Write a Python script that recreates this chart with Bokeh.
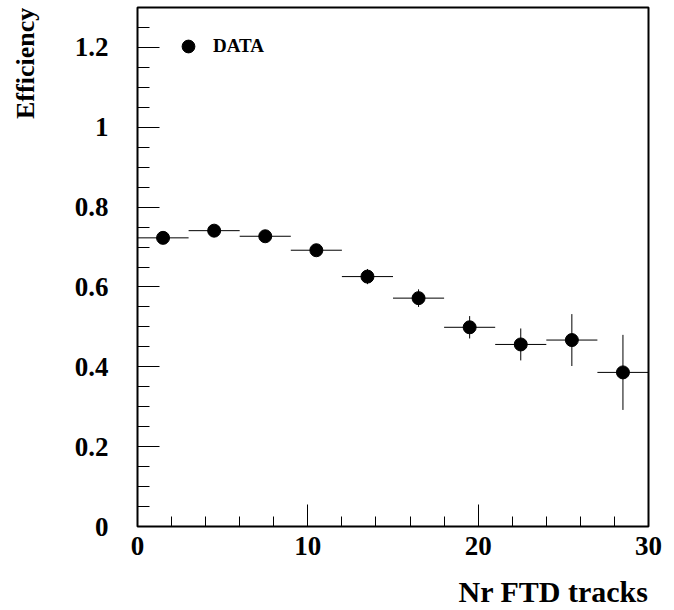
from bokeh.plotting import figure
from bokeh.models import FixedTicker, Legend, LegendItem, LinearAxis, Range1d
from bokeh.embed import file_html
from bokeh.resources import INLINE

# Efficiency per bin of FTD track multiplicity (bins of width 3)
bin_lo = [0, 3, 6, 9, 12, 15, 18, 21, 24, 27]
bin_hi = [3, 6, 9, 12, 15, 18, 21, 24, 27, 30]
bin_center = [1.5, 4.5, 7.5, 10.5, 13.5, 16.5, 19.5, 22.5, 25.5, 28.5]
efficiency = [0.723, 0.741, 0.727, 0.692, 0.626, 0.572, 0.499, 0.456, 0.467, 0.386]
eff_error = [0.010, 0.010, 0.010, 0.012, 0.019, 0.022, 0.028, 0.040, 0.065, 0.094]

y_major = [0, 0.2, 0.4, 0.6, 0.8, 1.0, 1.2]
y_minor = [i * 0.05 for i in range(27)]
x_major = [0, 10, 20, 30]
x_minor = list(range(0, 31, 2))

FONT = "Liberation Serif"
X_MAX, Y_MAX = 30, 1.3
FRAME_W, FRAME_H = 511, 520

p = figure(width=674, height=610, output_backend="svg", toolbar_location=None,
           x_range=Range1d(0, X_MAX), y_range=Range1d(0, Y_MAX),
           min_border_left=137, min_border_right=26,
           min_border_top=7, min_border_bottom=83)

p.xgrid.visible = False
p.ygrid.visible = False
p.outline_line_color = "black"
p.outline_line_width = 2
p.background_fill_color = "white"
p.border_fill_color = "white"

# axes: ticks point inwards, ROOT-like style
p.xaxis.ticker = FixedTicker(ticks=x_major, minor_ticks=x_minor)
p.yaxis.ticker = FixedTicker(ticks=y_major, minor_ticks=y_minor)
for ax in (p.xaxis, p.yaxis):
    ax.axis_line_color = None
    ax.major_tick_out = 0
    ax.minor_tick_out = 0
    ax.major_tick_line_color = "black"
    ax.minor_tick_line_color = "black"
    ax.major_label_text_font = FONT
    ax.major_label_text_font_style = "bold"
    ax.major_label_text_font_size = "27px"
    ax.major_label_text_color = "black"
p.xaxis.major_tick_in = 22
p.xaxis.minor_tick_in = 10
p.yaxis.major_tick_in = 22
p.yaxis.minor_tick_in = 12
p.xaxis.major_label_standoff = 10
p.yaxis.major_label_standoff = 29
p.yaxis.major_label_overrides = {0: "0", 0.2: "0.2", 0.4: "0.4", 0.6: "0.6",
                                 0.8: "0.8", 1.0: "1", 1.2: "1.2"}

# error bars
p.segment(x0=bin_lo, x1=bin_hi, y0=efficiency, y1=efficiency,
          line_color="black", line_width=1)
p.segment(x0=bin_center, x1=bin_center,
          y0=[e - d for e, d in zip(efficiency, eff_error)],
          y1=[e + d for e, d in zip(efficiency, eff_error)],
          line_color="black", line_width=1)
pts = p.scatter(x=bin_center, y=efficiency, size=13, marker="circle",
                fill_color="black", line_color="black")

legend = Legend(items=[LegendItem(label="DATA", renderers=[pts])],
                location=(35, 464), border_line_color=None,
                background_fill_alpha=0, padding=0, margin=0,
                label_standoff=9, glyph_width=32, glyph_height=32,
                label_text_font=FONT, label_text_font_style="bold",
                label_text_font_size="19px", label_text_color="black")
p.add_layout(legend)


def title_axis(pos, text, size, standoff, orientation):
    """Tick-less outer axis whose single label is the axis title; the label
    is centred on its tick, so the tick sits half a title length in from the
    far end of the axis."""
    ax = LinearAxis(ticker=FixedTicker(ticks=[pos], minor_ticks=[]),
                    major_label_overrides={pos: text},
                    major_label_orientation=orientation,
                    major_label_standoff=standoff,
                    major_label_text_font=FONT,
                    major_label_text_font_style="bold",
                    major_label_text_font_size=f"{size}px",
                    major_label_text_color="black",
                    axis_line_color=None, major_tick_line_color=None,
                    minor_tick_line_color=None,
                    major_tick_in=0, major_tick_out=0,
                    minor_tick_in=0, minor_tick_out=0)
    return ax


# x title: about 190 px long, right end at the end of the axis
x_title_pos = X_MAX - 95 * X_MAX / FRAME_W
p.add_layout(title_axis(x_title_pos, "Nr FTD tracks", 30, 17, "horizontal"),
             "below")

# y title: about 112 px long, reading upwards, ending at the top of the frame
y_title_pos = Y_MAX - 56 * Y_MAX / FRAME_H
p.add_layout(title_axis(y_title_pos, "Efficiency", 26, 31, "vertical"),
             "left")

open("out.html", "w").write(file_html(p, INLINE))
